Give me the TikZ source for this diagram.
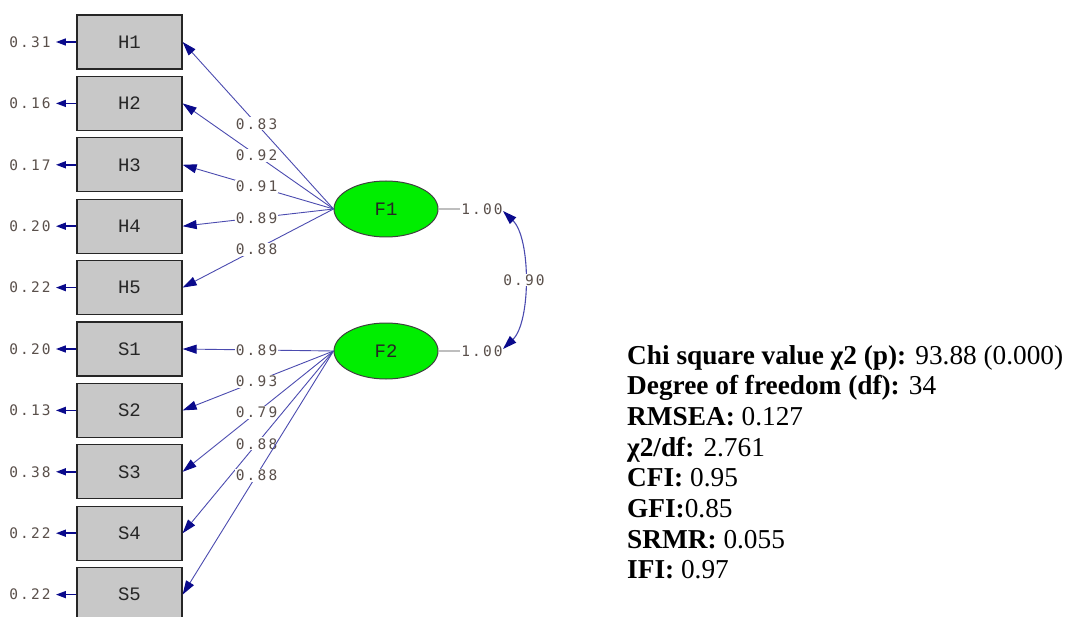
\documentclass[tikz,border=0pt]{standalone}
\usepackage{fontspec}
\setmainfont{Liberation Serif}
\newfontfamily\lblfont[LetterSpace=15]{DejaVu Sans Mono}
\newfontfamily\boxfont{Liberation Mono}
\usetikzlibrary{arrows.meta,shapes.geometric}
\definecolor{linecol}{RGB}{75,75,175}
\definecolor{tipcol}{RGB}{10,10,140}
\definecolor{boxfill}{RGB}{200,200,200}
\definecolor{lblcol}{RGB}{90,80,75}
\definecolor{ellfill}{RGB}{0,238,0}
\definecolor{graylink}{RGB}{190,190,190}
\tikzset{
  bigtip/.tip={Triangle[length=14pt,width=9pt,color=tipcol,fill=tipcol]},
  smalltip/.tip={Triangle[length=10pt,width=7pt,color=tipcol,fill=tipcol]},
  obs/.style={draw=black!85, line width=1.3pt, fill=boxfill, minimum width=105pt, minimum height=54pt, inner sep=0pt, text=black!85, font=\boxfont\fontsize{19}{19}\selectfont},
  lat/.style={ellipse, draw=black!75, line width=1pt, fill=ellfill, minimum width=104pt, minimum height=56pt, inner sep=0pt, text=black!85, font=\boxfont\fontsize{19}{19}\selectfont},
  lab/.style={fill=white, inner sep=1pt, text=lblcol, font=\lblfont\fontsize{14.5}{14.5}\selectfont},
  load/.style={draw=linecol, line width=0.9pt, -bigtip},
  cov/.style={draw=linecol, line width=1.1pt, bigtip-bigtip},
  errarr/.style={draw=tipcol, line width=1.5pt, -smalltip, shorten >=4pt},
  fit/.style={anchor=base west, inner sep=0pt, font=\fontsize{27.3}{30}\selectfont}
}
\begin{document}
\begin{tikzpicture}[x=1pt,y=-1pt]
\useasboundingbox (0,0) rectangle (1067,617);
% observed boxes
\foreach \n/\i in {H1/0,H2/1,H3/2,H4/3,H5/4,S1/5,S2/6,S3/7,S4/8,S5/9}{
  \node[obs] (\n) at (129.5,{42+61.4*\i}) {\n};
}
% error variances
\foreach \n/\v/\i in {H1/0.31/0,H2/0.16/1,H3/0.17/2,H4/0.20/3,H5/0.22/4,S1/0.20/5,S2/0.13/6,S3/0.38/7,S4/0.22/8,S5/0.22/9}{
  \node[lab] (e\n) at (30,{42+61.4*\i}) {\v};
  \draw[errarr] (\n.west) -- (e\n.east);
}
% latent
\node[lat] (F1) at (386,209) {F1};
\node[lat] (F2) at (386,351) {F2};
% loadings
\foreach \n/\v in {H1/0.83,H2/0.92,H3/0.91,H4/0.89,H5/0.88}{
  \draw[load] (F1.west) -- node[lab,pos=0.51]{\v} (\n.east);
}
\foreach \n/\v in {S1/0.89,S2/0.93,S3/0.79,S4/0.88,S5/0.88}{
  \draw[load] (F2.west) -- node[lab,pos=0.51]{\v} (\n.east);
}
% variances
\node[lab] (v1) at (482,209) {1.00};
\node[lab] (v2) at (482,351) {1.00};
\draw[graylink, line width=1.2pt] (F1.east) -- (v1.west);
\draw[graylink, line width=1.2pt] (F2.east) -- (v2.west);
% covariance
\coordinate (c1) at (503,211);
\coordinate (c2) at (503,349);
\draw[cov] (c1) .. controls (531,238) and (531,322) .. node[lab]{0.90} (c2);
% fit indices
\node[fit] (t1) at (627,364) {\textbf{Chi square value χ2 (p):} 93.88 (0.000)};
\node[fit] (t2) at (627,394.7) {\textbf{Degree of freedom (df):} 34};
\node[fit] (t3) at (627,425.4) {\textbf{RMSEA:} 0.127};
\node[fit] (t4) at (627,456.1) {\textbf{χ2/df:} 2.761};
\node[fit] (t5) at (627,486.8) {\textbf{CFI:} 0.95};
\node[fit] (t6) at (627,517.5) {\textbf{GFI:}0.85};
\node[fit] (t7) at (627,548.2) {\textbf{SRMR:} 0.055};
\node[fit] (t8) at (627,578.9) {\textbf{IFI:} 0.97};
\end{tikzpicture}
\end{document}
